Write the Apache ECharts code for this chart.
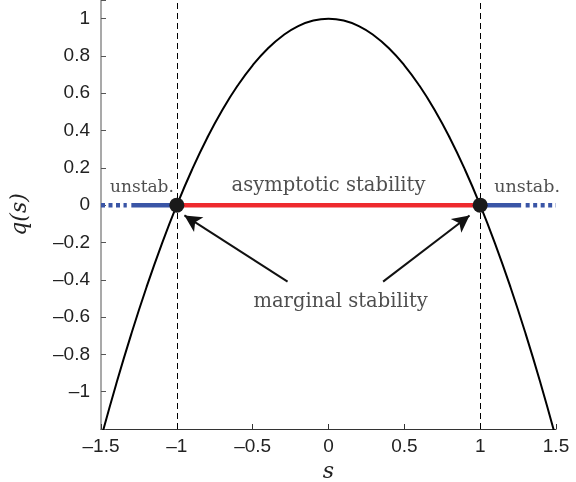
<!DOCTYPE html>
<html>
<head>
<meta charset="utf-8">
<script src="https://cdn.jsdelivr.net/npm/echarts@6/dist/echarts.min.js"></script>
<style>
  html, body { margin: 0; padding: 0; background: #fff; }
  #chart { width: 576px; height: 482px; }
</style>
</head>
<body>
<div id="chart"></div>
<script>
// q(s)
const sValues = [-1.5, -1.4, -1.3, -1.2, -1.1, -1.0, -0.9, -0.8, -0.7, -0.6, -0.5, -0.4, -0.3, -0.2, -0.1, 0,
  0.1, 0.2, 0.3, 0.4, 0.5, 0.6, 0.7, 0.8, 0.9, 1.0, 1.1, 1.2, 1.3, 1.4, 1.5]
const qValues = [-1.25, -0.96, -0.69, -0.44, -0.21, 0, 0.19, 0.36, 0.51, 0.64, 0.75, 0.84, 0.91, 0.96, 0.99, 1,
  0.99, 0.96, 0.91, 0.84, 0.75, 0.64, 0.51, 0.36, 0.19, 0, -0.21, -0.44, -0.69, -0.96, -1.25]

const stableSegment = [[-1, 0], [1, 0]]
const unstableSolid = [[[-1.3, 0], [-1, 0]], [[1, 0], [1.27, 0]]]
const unstableDotted = [[[-1.5, 0], [-1.33, 0]], [[1.3, 0], [1.5, 0]]]
const marginalPoints = [[-1, 0], [1, 0]]
const boundaryLines = [-1, 1]

const arrows = [
  [[-0.27, -0.41], [-0.95, -0.055]],
  [[0.36, -0.41], [0.93, -0.055]]
]
const annotations = [
  { name: 'asymptotic stability', value: [0, 0.105], size: 19.5 },
  { name: 'marginal stability', value: [0.08, -0.52], size: 19.5 },
  { name: 'unstab.', value: [-1.23, 0.095], size: 17 },
  { name: 'unstab.', value: [1.31, 0.095], size: 17.5 }
]

const xTickLabels = [-1.5, -1, -0.5, 0, 0.5, 1, 1.5]
const yTickLabels = [-1, -0.8, -0.6, -0.4, -0.2, 0, 0.2, 0.4, 0.6, 0.8, 1]

const fmt = v => String(+v.toFixed(1)).replace('-', '\u2013')
const inList = (list, v) => list.some(t => Math.abs(t - v) < 1e-6)

const serif = 'DejaVu Serif'
const sans = 'Liberation Sans'

const chart = echarts.init(document.getElementById('chart'))
chart.setOption({
  animation: false,
  grid: { left: 101, right: 20, top: 0, bottom: 53, containLabel: false, outerBoundsMode: 'none' },
  xAxis: {
    type: 'value',
    min: -1.5,
    max: 1.5,
    interval: 0.5,
    name: 's',
    nameLocation: 'middle',
    nameGap: 32,
    nameTextStyle: { fontFamily: serif, fontStyle: 'italic', fontSize: 22, color: '#222' },
    axisLine: { onZero: false, lineStyle: { color: '#333', width: 1.2 } },
    axisTick: { inside: true, length: 5, lineStyle: { color: '#333' } },
    axisLabel: {
      fontFamily: sans, fontSize: 19, color: '#222', margin: 8,
      formatter: v => inList(xTickLabels, v) ? fmt(v) : ''
    },
    splitLine: { show: false }
  },
  yAxis: {
    type: 'value',
    min: -1.2,
    max: 1.1,
    interval: 0.2,
    name: 'q(s)',
    nameLocation: 'middle',
    nameGap: 70,
    nameRotate: 90,
    nameTextStyle: { fontFamily: serif, fontStyle: 'italic', fontSize: 22, color: '#222' },
    axisLine: { onZero: false, lineStyle: { color: '#8c8c8c', width: 1.5 } },
    axisTick: { inside: true, length: 5, lineStyle: { color: '#555' } },
    axisLabel: {
      fontFamily: sans, fontSize: 19, color: '#222', margin: 11,
      formatter: v => inList(yTickLabels, v) ? fmt(v) : ''
    },
    splitLine: { show: false }
  },
  series: [
    {
      type: 'line',
      data: sValues.map((s, i) => [s, qValues[i]]),
      smooth: true,
      showSymbol: false,
      clip: true,
      lineStyle: { color: '#000', width: 2 },
      z: 3,
      markLine: {
        silent: true,
        symbol: ['none', 'none'],
        label: { show: false },
        lineStyle: { color: '#000', width: 1, type: [6, 4] },
        data: boundaryLines.map(x => ({ xAxis: x }))
      }
    },
    {
      type: 'line',
      data: stableSegment,
      showSymbol: false,
      lineStyle: { color: '#ee2a2e', width: 4.5 },
      z: 2
    },
    ...unstableSolid.map(seg => ({
      type: 'line',
      data: seg,
      showSymbol: false,
      lineStyle: { color: '#3a55a6', width: 4.5 },
      z: 2
    })),
    ...unstableDotted.map(seg => ({
      type: 'line',
      data: seg,
      showSymbol: false,
      lineStyle: { color: '#3a55a6', width: 4.5, type: [4, 3.5] },
      z: 2
    })),
    {
      type: 'scatter',
      data: marginalPoints,
      symbolSize: 15,
      itemStyle: { color: '#1a1a1a', opacity: 1 },
      z: 5,
      markLine: {
        silent: true,
        symbol: ['none', 'arrow'],
        symbolSize: [13, 17],
        label: { show: false },
        lineStyle: { color: '#111', width: 2, type: 'solid' },
        data: arrows.map(a => [{ coord: a[0] }, { coord: a[1] }])
      }
    },
    {
      type: 'scatter',
      symbolSize: 0,
      data: annotations.map(a => ({
        name: a.name,
        value: a.value,
        label: { fontSize: a.size }
      })),
      label: {
        show: true,
        position: 'inside',
        formatter: '{b}',
        fontFamily: serif,
        color: '#222'
      },
      z: 6
    }
  ]
})
</script>
</body>
</html>
